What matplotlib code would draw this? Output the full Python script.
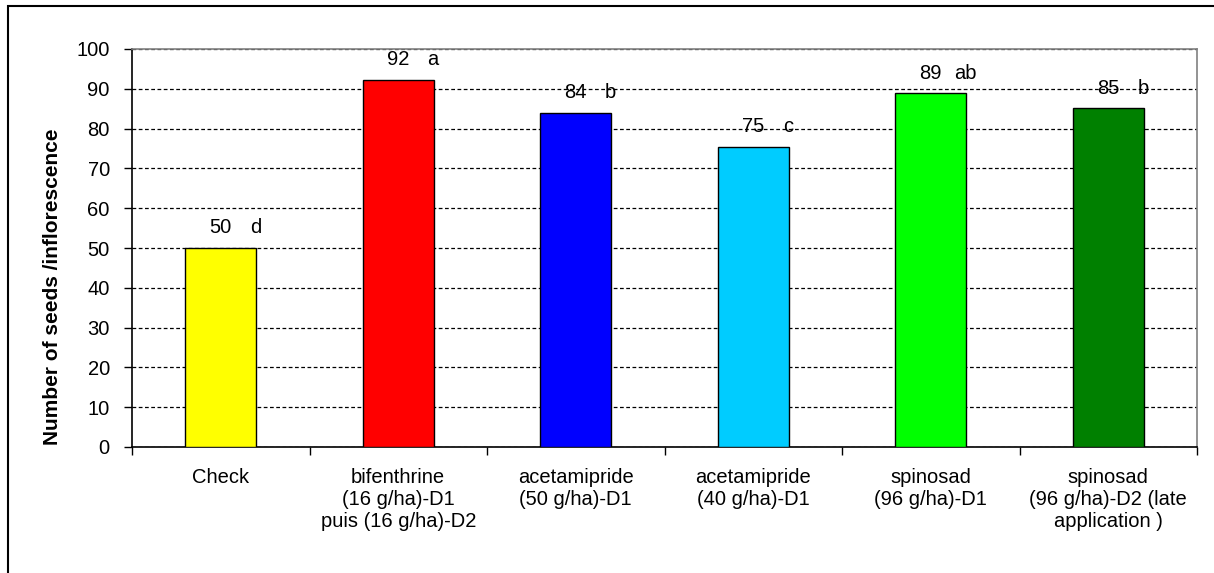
import matplotlib
matplotlib.use("Agg")
import matplotlib.pyplot as plt
from matplotlib.patches import Rectangle

plt.rcParams['font.family'] = ['Liberation Sans', 'DejaVu Sans']

categories = ["Check",
              "bifenthrine\n(16 g/ha)-D1\npuis (16 g/ha)-D2",
              "acetamipride\n(50 g/ha)-D1",
              "acetamipride\n(40 g/ha)-D1",
              "spinosad\n(96 g/ha)-D1",
              "spinosad\n(96 g/ha)-D2 (late\napplication )"]
values = [50, 92.2, 84, 75.5, 88.9, 85.1]
value_labels = ["50", "92", "84", "75", "89", "85"]
letters = ["d", "a", "b", "c", "ab", "b"]
colors = ["#FFFF00", "#FF0000", "#0000FF", "#00CCFF", "#00FF00", "#008000"]
yticks = [0, 10, 20, 30, 40, 50, 60, 70, 80, 90, 100]

W, H = 1214, 573
fig = plt.figure(figsize=(W / 100, H / 100), dpi=100)
ax = fig.add_axes([132 / W, 1 - 447 / H, (1197 - 132) / W, (447 - 49) / H])

x = list(range(len(categories)))
ax.bar(x, values, width=0.4, color=colors, edgecolor="black", linewidth=1.0, zorder=3)

for xi, v, lab, let in zip(x, values, value_labels, letters):
    ax.annotate(lab, (xi, v), xytext=(0, 14.5), textcoords="offset points",
                ha="center", va="center", fontsize=14.5, zorder=4)
    ax.annotate(let, (xi, v), xytext=(25, 14.5), textcoords="offset points",
                ha="center", va="center", fontsize=14.5, zorder=4)

ax.set_xlim(-0.5, len(categories) - 0.5)
ax.set_ylim(0, 100)
ax.set_yticks(yticks)
ax.set_yticklabels([str(t) for t in yticks], fontsize=14.5)
ax.yaxis.grid(True, linestyle=(0, (3, 2)), color="black", linewidth=0.9, zorder=0)
ax.set_axisbelow(True)

ax.set_xticks(x)
ax.set_xticklabels(categories, fontsize=14.5, linespacing=1.2)
ax.tick_params(axis="x", length=0, pad=15)
ax.set_xticks([i + 0.5 for i in range(-1, len(categories))], minor=True)
ax.tick_params(axis="x", which="minor", length=6, width=1, direction="out")
ax.tick_params(axis="y", length=6, width=1, direction="out", pad=10)

ax.spines["left"].set_linewidth(1.2)
ax.spines["bottom"].set_linewidth(1.2)
ax.spines["top"].set_color("#808080")
ax.spines["right"].set_color("#808080")
ax.spines["top"].set_linewidth(1.2)
ax.spines["right"].set_linewidth(1.2)

fig.text(53 / W, 1 - 287 / H, "Number of seeds /inflorescence", rotation=90,
         ha="center", va="center", fontsize=15, fontweight="bold")

fig.patches.append(Rectangle((8 / W, -0.1), 1.2, 1 - 6 / H + 0.1,
                             transform=fig.transFigure, fill=False,
                             edgecolor="black", linewidth=1.5))

fig.savefig("out.png", dpi=100)
